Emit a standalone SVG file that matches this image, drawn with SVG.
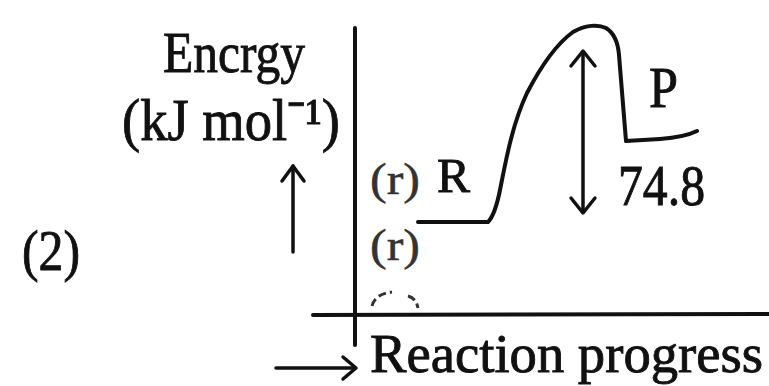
<svg xmlns="http://www.w3.org/2000/svg" width="769" height="386" viewBox="0 0 769 386">
<style>
text{font-family:"Liberation Serif","Times New Roman",serif;fill:#111;stroke:#111;stroke-width:0.9}
.ln{stroke:#111;stroke-width:4;fill:none;stroke-linecap:round;stroke-linejoin:round}
.ah{stroke:#111;stroke-width:3.5;fill:none;stroke-linecap:round;stroke-linejoin:round}
.mk{font-size:44px;fill:#333;stroke:#333;stroke-width:0.5}
</style>
<rect width="769" height="386" fill="#fff"/>
<g id="labels">
<text x="163" y="72" font-size="58" textLength="142" lengthAdjust="spacingAndGlyphs">Encrgy</text>
<text x="122" y="140" font-size="60" textLength="218" lengthAdjust="spacingAndGlyphs">(kJ mol⁻¹)</text>
<text x="22" y="270" font-size="56" textLength="58" lengthAdjust="spacingAndGlyphs">(2)</text>
<text x="370" y="372" font-size="54" textLength="393" lengthAdjust="spacingAndGlyphs">Reaction progress</text>
</g>
<g id="axes">
<line class="ln" x1="355" y1="28" x2="355" y2="345"/>
<line class="ln" x1="313" y1="315" x2="769" y2="314"/>
</g>
<g id="connectors">
<g id="energy-arrow">
<line class="ah" x1="293" y1="252" x2="293" y2="166"/>
<polyline class="ah" points="282,181 293,166 304,181"/>
</g>
<g id="progress-arrow">
<line class="ah" x1="276" y1="368" x2="355" y2="368"/>
<polyline class="ah" points="343,357 356,368 343,379"/>
</g>
<g id="delta-arrow">
<line class="ah" x1="583" y1="52" x2="583" y2="212"/>
<polyline class="ah" points="571,66 583,51 595,66"/>
<polyline class="ah" points="571,198 583,213 595,198"/>
</g>
</g>
<g id="curve">
<path class="ln" d="M 418 222 L 488 222 Q 495 215 500 190 C 506 160 512 125 527 93 C 540 68 555 45 573 32 C 585 25 598 24 606 28 C 614 33 618 42 619 55 L 626 141 L 660 139 Q 685 137 697 131"/>
</g>
<g id="R">
<text class="mk" x="370" y="194" textLength="50" lengthAdjust="spacingAndGlyphs">(r)</text>
<text x="437" y="192" font-size="48" textLength="33" lengthAdjust="spacingAndGlyphs">R</text>
</g>
<g id="marks">
<text class="mk" x="370" y="260" textLength="50" lengthAdjust="spacingAndGlyphs">(r)</text>
<path d="M 372 306 Q 375 294 392 292 M 408 296 Q 416 298 418 308" stroke="#333" stroke-width="3" fill="none" stroke-dasharray="8 4"/>
</g>
<g id="P">
<text x="649" y="107" font-size="58" textLength="29" lengthAdjust="spacingAndGlyphs">P</text>
</g>
<g id="value">
<text x="618" y="205" font-size="56" textLength="87" lengthAdjust="spacingAndGlyphs">74.8</text>
</g>
</svg>
